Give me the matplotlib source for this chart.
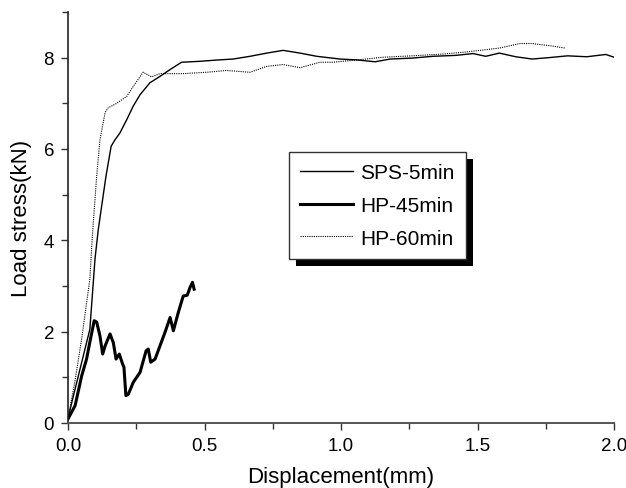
import matplotlib
matplotlib.use("Agg")
import matplotlib.pyplot as plt
from matplotlib.patches import Rectangle
from matplotlib.ticker import MultipleLocator

plt.rcParams['font.family'] = ['Liberation Sans', 'DejaVu Sans']

# SPS-5min (thin solid)
sps_x = [0.0, 0.02, 0.044, 0.08, 0.099, 0.111, 0.139, 0.158, 0.172, 0.19, 0.215, 0.239,
         0.264, 0.30, 0.337, 0.374, 0.416, 0.483, 0.55, 0.605, 0.667, 0.728, 0.788,
         0.85, 0.911, 0.996, 1.06, 1.125, 1.18, 1.26, 1.337, 1.42, 1.484, 1.53, 1.58,
         1.64, 1.70, 1.76, 1.83, 1.90, 1.97, 2.0]
sps_y = [0.1, 0.6, 1.18, 2.05, 3.6, 4.24, 5.4, 6.06, 6.2, 6.35, 6.64, 6.94,
         7.19, 7.45, 7.59, 7.74, 7.9, 7.92, 7.95, 7.97, 8.03, 8.1, 8.16,
         8.1, 8.03, 7.97, 7.95, 7.91, 7.97, 7.99, 8.03, 8.05, 8.09, 8.03, 8.1,
         8.02, 7.97, 8.0, 8.04, 8.02, 8.07, 8.01]

# HP-45min (thick solid)
hp45_x = [0.0, 0.026, 0.05, 0.068, 0.08, 0.096, 0.105, 0.117, 0.127, 0.136, 0.154,
          0.166, 0.176, 0.188, 0.2, 0.205, 0.212, 0.221, 0.239, 0.264, 0.286, 0.294,
          0.303, 0.319, 0.337, 0.355, 0.374, 0.386, 0.404, 0.422, 0.437, 0.447,
          0.456, 0.462]
hp45_y = [0.09, 0.38, 1.03, 1.4, 1.77, 2.24, 2.21, 1.91, 1.51, 1.69, 1.95,
          1.76, 1.4, 1.51, 1.29, 1.22, 0.6, 0.63, 0.89, 1.11, 1.58, 1.62,
          1.33, 1.4, 1.69, 1.98, 2.31, 2.02, 2.42, 2.78, 2.8, 2.97,
          3.08, 2.93]

# HP-60min (dotted)
hp60_x = [0.0, 0.025, 0.05, 0.08, 0.09, 0.105, 0.117, 0.136, 0.147, 0.178, 0.215,
          0.239, 0.275, 0.306, 0.337, 0.42, 0.508, 0.58, 0.667, 0.728, 0.788, 0.85,
          0.923, 0.97, 1.06, 1.155, 1.26, 1.375, 1.45, 1.51, 1.58, 1.656, 1.70,
          1.78, 1.82]
hp60_y = [0.1, 0.9, 1.84, 3.15, 4.17, 5.4, 6.2, 6.8, 6.9, 7.0, 7.15,
          7.37, 7.68, 7.58, 7.65, 7.65, 7.68, 7.72, 7.68, 7.81, 7.85, 7.78,
          7.9, 7.9, 7.95, 8.01, 8.04, 8.08, 8.12, 8.16, 8.21, 8.31, 8.31,
          8.25, 8.21]

fig = plt.figure(figsize=(6.26, 4.89), dpi=100)
ax = fig.add_axes([68 / 626, 65 / 489, 546 / 626, 411 / 489])

ax.plot(sps_x, sps_y, color='black', lw=1.0, label='SPS-5min')
ax.plot(hp45_x, hp45_y, color='black', lw=2.2, label='HP-45min')
ax.plot(hp60_x, hp60_y, color='black', lw=0.8, ls=(0, (1, 1)), label='HP-60min')

ax.set_xlim(0, 2.0)
ax.set_ylim(0, 9)
ax.xaxis.set_major_locator(MultipleLocator(0.5))
ax.xaxis.set_minor_locator(MultipleLocator(0.25))
ax.yaxis.set_major_locator(MultipleLocator(2))
ax.yaxis.set_minor_locator(MultipleLocator(1))
ax.xaxis.set_major_formatter(lambda v, p: f'{v:.1f}')
ax.tick_params(which='both', direction='out', labelsize=13.5, width=1, color='#333333')
ax.tick_params(which='major', length=5, pad=5)
ax.tick_params(which='minor', length=4)
ax.spines['top'].set_visible(False)
ax.spines['right'].set_visible(False)
ax.spines['left'].set_color('#222222')
ax.spines['bottom'].set_color('#555555')
ax.spines['left'].set_linewidth(1.2)
ax.spines['bottom'].set_linewidth(1.4)

ax.set_xlabel('Displacement(mm)', fontsize=16, labelpad=9)
ax.set_ylabel('Load stress(kN)', fontsize=16, labelpad=8)

leg = ax.legend(loc='upper left', bbox_to_anchor=(289 / 626, 1 - 153 / 489),
                bbox_transform=fig.transFigure, frameon=True, fancybox=False,
                framealpha=1, facecolor='white',
                fontsize=15, handlelength=2.5, handletextpad=0.35,
                labelspacing=0.65, borderpad=0.55, borderaxespad=0)
leg.get_frame().set_edgecolor('#333333')
leg.get_frame().set_linewidth(1.0)
leg.set_zorder(5)

fig.canvas.draw()
bb = leg.get_window_extent().transformed(fig.transFigure.inverted())
shadow = Rectangle((bb.x0 + 7 / 626, bb.y0 - 7 / 489), bb.width, bb.height,
                   transform=fig.transFigure, facecolor='black', edgecolor='none', zorder=4)
fig.patches.append(shadow)
leg.remove()
fig.legends.append(leg)

fig.savefig('out.png', dpi=100)
